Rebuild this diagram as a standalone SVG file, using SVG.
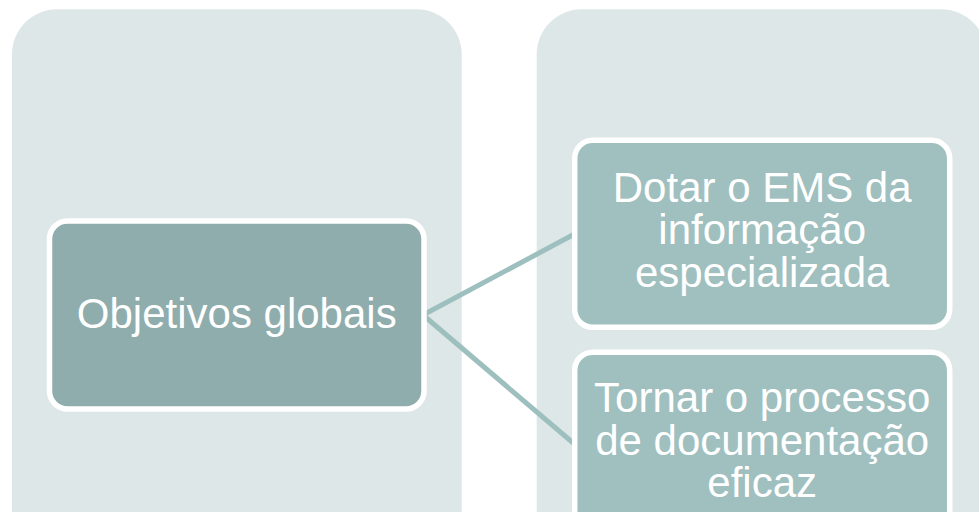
<svg xmlns="http://www.w3.org/2000/svg" width="979" height="512" viewBox="0 0 979 512">
  <style>
    .panel { fill: #DEE7E8; }
    .node { stroke: #FFFFFF; stroke-width: 5.5; }
    .root { fill: #8FADAD; }
    .child { fill: #9FC0BF; }
    .conn { stroke: #9DBFBE; stroke-width: 5; fill: none; }
    .lbl { font-family: "Liberation Sans", Arial, sans-serif; font-size: 42px; fill: #FFFFFF; text-anchor: middle; }
  </style>
  <rect width="979" height="512" fill="#FFFFFF"/>
  <g id="panel-left">
    <rect class="panel" x="12" y="9.3" width="449.7" height="560" rx="45" ry="45"/>
  </g>
  <g id="panel-right">
    <rect class="panel" x="536.7" y="9.3" width="449.7" height="560" rx="45" ry="45"/>
  </g>
  <g id="connectors">
    <line class="conn" x1="423" y1="315" x2="575" y2="233.8"/>
    <line class="conn" x1="423" y1="315" x2="575" y2="444.5"/>
  </g>
  <g id="node-objetivos">
    <rect class="node root" x="49.5" y="221" width="374.5" height="188" rx="18" ry="18"/>
    <text class="lbl" x="236.75" y="328">Objetivos globais</text>
  </g>
  <g id="node-dotar">
    <rect class="node child" x="574.7" y="140.3" width="375" height="187" rx="18" ry="18"/>
    <text class="lbl" x="762.2" y="201.7">Dotar o EMS da</text>
    <text class="lbl" x="762.2" y="244.2">informação</text>
    <text class="lbl" x="762.2" y="286.7">especializada</text>
  </g>
  <g id="node-tornar">
    <rect class="node child" x="574.7" y="352.2" width="375" height="187" rx="18" ry="18"/>
    <text class="lbl" x="762.2" y="412">Tornar o processo</text>
    <text class="lbl" x="762.2" y="454.5">de documentação</text>
    <text class="lbl" x="762.2" y="497">eficaz</text>
  </g>
</svg>
